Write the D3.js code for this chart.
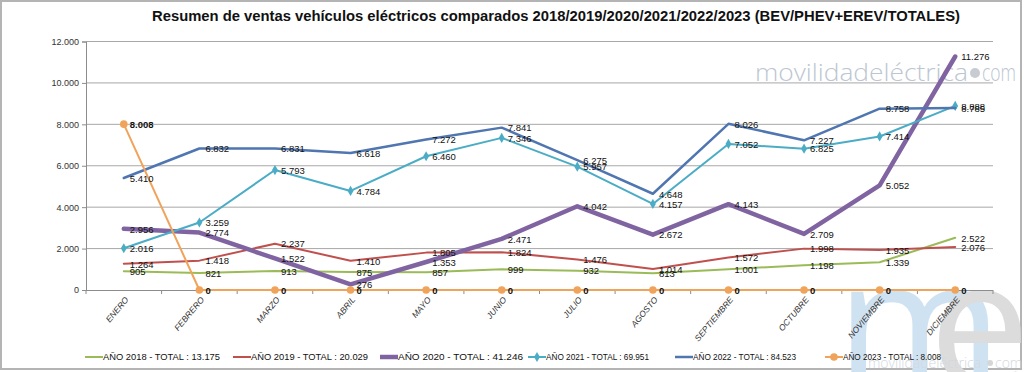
<!DOCTYPE html>
<html>
<head>
<meta charset="utf-8">
<script src="https://cdn.jsdelivr.net/npm/d3@7"></script>
<style>
  body { margin:0; background:#fff; }
  svg { display:block; font-family:"Liberation Sans", Arial, sans-serif; }
</style>
</head>
<body>
<svg id="canvas" width="1024" height="372"></svg>
<script>
// datos
const months=["ENERO","FEBRERO","MARZO","ABRIL","MAYO","JUNIO","JULIO","AGOSTO","SEPTIEMBRE","OCTUBRE","NOVIEMBRE","DICIEMBRE"];
const years=["2018","2019","2020","2021","2022","2023"];
const v2018=[905,821,913,875,857,999,932,813,1001,1198,1339,2522];
const v2019=[1264,1418,2237,1410,1805,1824,1476,1014,1572,1998,1935,2076];
const v2020=[2956,2774,1522,276,1353,2471,4042,2672,4143,2709,5052,11276];
const v2021=[2016,3259,5793,4784,6460,7346,5957,4157,7052,6825,7414,8888];
const v2022=[5410,6832,6831,6618,7272,7841,6275,4648,8026,7227,8758,8785];
const v2023=[8008,0,0,0,0,0,0,0,0,0,0,0];
const yTicks=[0,2000,4000,6000,8000,10000,12000];

const colors=["#9bbb59","#c0504d","#8064a2","#4bacc6","#4f76b0","#f0a35a"];
const widths=[2,2,4.5,2,2.5,2];
const markers=[null,null,null,"diamond",null,"circle"];
const allSeries=[v2018,v2019,v2020,v2021,v2022,v2023];

let canvas=d3.select("#canvas");
const loc=d3.formatLocale({decimal:",",thousands:".",grouping:[3],currency:["","€"]});
const fmt=loc.format(",d");

// marco
canvas.append("rect").attr("x",1).attr("y",1).attr("width",1020).attr("height",368)
  .attr("fill","#fff").attr("stroke","#b4b4b4").attr("stroke-width",2);

// marca de agua
canvas.append("text").attr("x",836).attr("y",388).text("m")
  .style("font","400 180px 'Open Sans'").attr("fill","#cfe2f2");
canvas.append("text").attr("x",929).attr("y",388).text("e")
  .style("font","400 180px 'Open Sans'").attr("fill","#dcdcdc");
canvas.append("text").attr("x",755).attr("y",81).text("movilidadeléctrica")
  .style("font","300 24px 'Open Sans'").attr("fill","#bcc6d2")
  .attr("textLength",213).attr("lengthAdjust","spacingAndGlyphs");
canvas.append("circle").attr("cx",975).attr("cy",73).attr("r",5).attr("fill","#c8ccd2");
canvas.append("text").attr("x",982).attr("y",81).text("com")
  .style("font","300 24px 'Open Sans'").attr("fill","#bcc6d2")
  .attr("textLength",34).attr("lengthAdjust","spacingAndGlyphs");
canvas.append("text").attr("x",868).attr("y",368).text("movilidadeléctrica")
  .style("font","300 14px 'Open Sans'").attr("fill","#d2d8e0");
canvas.append("circle").attr("cx",990).attr("cy",363).attr("r",3).attr("fill","#d6d6d6");
canvas.append("text").attr("x",995).attr("y",368).text("com")
  .style("font","300 14px 'Open Sans'").attr("fill","#d2d8e0");

// titulo
canvas.append("text").attr("x",152).attr("y",21)
  .text("Resumen de ventas vehículos eléctricos comparados 2018/2019/2020/2021/2022/2023  (BEV/PHEV+EREV/TOTALES)")
  .style("font","bold 15px 'Liberation Sans'").attr("fill","#111")
  .attr("textLength",808).attr("lengthAdjust","spacingAndGlyphs");

// escalas
let x=d3.scalePoint().domain(months).range([86,993]).padding(0.5);
let y=d3.scaleLinear().domain([0,12000]).range([290,41.5]);
const step=x.step();

// rejilla
canvas.append("g").selectAll("line").data(yTicks.slice(1)).join("line")
  .attr("x1",86).attr("x2",993).attr("y1",d=>y(d)).attr("y2",d=>y(d))
  .attr("stroke","#a8a8a8").attr("stroke-width",1);

// eje y
let yAxis=canvas.append("g").attr("transform","translate(86,0)")
  .call(d3.axisLeft(y).tickValues(yTicks).tickSize(4).tickPadding(3).tickFormat(fmt));
yAxis.select(".domain").attr("stroke","#8c8c8c");
yAxis.selectAll(".tick line").attr("stroke","#8c8c8c");
yAxis.selectAll("text").style("font","9px 'Liberation Sans'").attr("fill","#333");

// eje x
canvas.append("line").attr("x1",86).attr("x2",993).attr("y1",290.5).attr("y2",290.5)
  .attr("stroke","#8c8c8c");
canvas.append("g").selectAll("line").data(d3.range(13)).join("line")
  .attr("x1",i=>86+i*step).attr("x2",i=>86+i*step).attr("y1",290).attr("y2",294)
  .attr("stroke","#8c8c8c");
canvas.append("g").selectAll("text").data(months).join("text")
  .attr("transform",d=>`translate(${x(d)+3},298) rotate(-50)`)
  .attr("text-anchor","end").attr("dy","0.35em")
  .style("font","italic 8.5px 'Liberation Sans'").attr("fill","#333")
  .text(d=>d);

// lineas
let line=d3.line().x((d,i)=>x(months[i])).y(d=>y(d));
let diamond=d3.symbol().type(d3.symbolDiamond).size(30);

allSeries.forEach((vals,k)=>{
  canvas.append("path").datum(vals).attr("d",line)
    .attr("fill","none").attr("stroke",colors[k]).attr("stroke-width",widths[k])
    .attr("stroke-linejoin","round").attr("stroke-linecap","round");
  if(markers[k]=="diamond"){
    canvas.append("g").selectAll("path").data(vals).join("path")
      .attr("d",diamond).attr("transform",(d,i)=>`translate(${x(months[i])},${y(d)})`)
      .attr("fill",colors[k]);
  }
  if(markers[k]=="circle"){
    canvas.append("g").selectAll("circle").data(vals).join("circle")
      .attr("cx",(d,i)=>x(months[i])).attr("cy",d=>y(d)).attr("r",3.8)
      .attr("fill",colors[k]);
  }
});

// etiquetas de datos
allSeries.forEach((vals,k)=>{
  canvas.append("g").selectAll("text").data(vals).join("text")
    .attr("x",(d,i)=>x(months[i])+6).attr("y",d=>y(d)).attr("dy","0.4em")
    .style("font",(k==5?"bold ":"")+"9.5px 'Liberation Sans'").attr("fill","#111")
    .text(d=>fmt(d));
});

// leyenda
let legX=[85,233,380,528,675,825];
let leg=canvas.append("g");
years.forEach((yr,k)=>{
  let lx=legX[k], ly=357;
  leg.append("line").attr("x1",lx).attr("x2",lx+18).attr("y1",ly).attr("y2",ly)
    .attr("stroke",colors[k]).attr("stroke-width",widths[k]);
  if(markers[k]=="diamond") leg.append("path").attr("d",diamond).attr("transform",`translate(${lx+9},${ly})`).attr("fill",colors[k]);
  if(markers[k]=="circle") leg.append("circle").attr("cx",lx+9).attr("cy",ly).attr("r",3.8).attr("fill",colors[k]);
  let lbl="AÑO "+yr+" - TOTAL : "+fmt(d3.sum(allSeries[k]));
  leg.append("text").attr("x",lx+18).attr("y",ly).attr("dy","0.35em")
    .style("font","8.5px 'Liberation Sans'").attr("fill","#111")
    .attr("textLength",k==5?98:(k==2?125:(k==3||k==4?103:117))).attr("lengthAdjust","spacingAndGlyphs")
    .text(lbl);
});
</script>
</body>
</html>
